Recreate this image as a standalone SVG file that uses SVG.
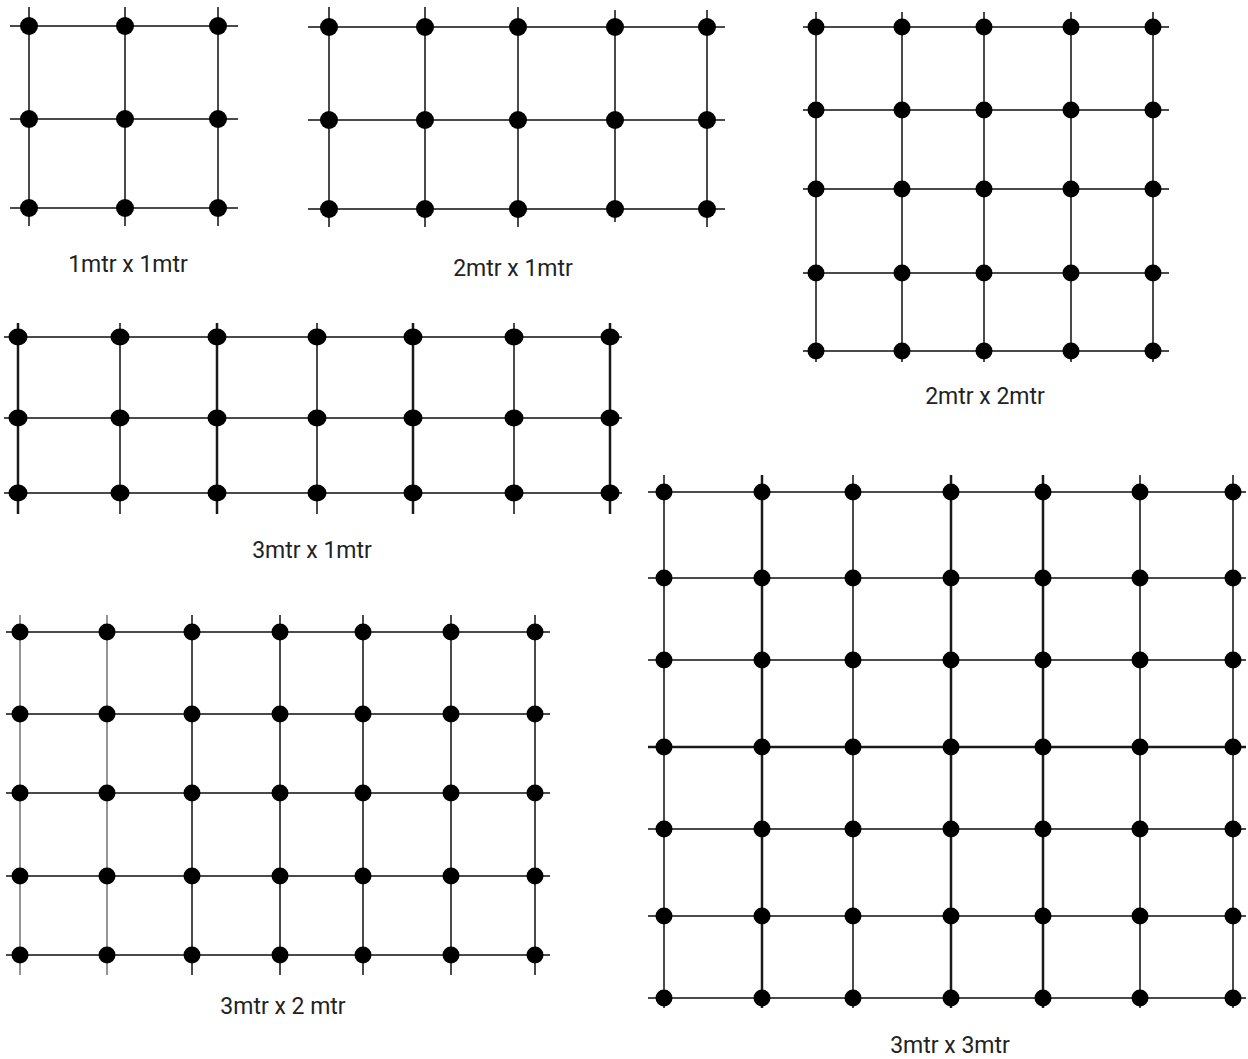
<svg xmlns="http://www.w3.org/2000/svg" width="1248" height="1059" viewBox="0 0 1248 1059">
<style>
.bg{fill:#ffffff}
.ln{stroke:#4a4a4a;stroke-width:2;fill:none}
.lnd{stroke:#1a1a1a;stroke-width:2.5;fill:none}
.lnl{stroke:#7a7a7a;stroke-width:1.6;fill:none}
.post{fill:#000000}
.lbl{font-family:Roboto,"Liberation Sans",sans-serif;font-size:23px;fill:#222222;text-anchor:middle}
</style>
<rect class="bg" x="0" y="0" width="1248" height="1059"/>

<g id="grid-1x1">
<g class="ln">
<path d="M10 26H238M10 119H238M10 208H238"/>
<path d="M29 7V226M125 7V226M218 7V226"/>
</g>
<g class="post">
<circle cx="29" cy="26" r="9"/><circle cx="125" cy="26" r="9"/><circle cx="218" cy="26" r="9"/>
<circle cx="29" cy="119" r="9"/><circle cx="125" cy="119" r="9"/><circle cx="218" cy="119" r="9"/>
<circle cx="29" cy="208" r="9"/><circle cx="125" cy="208" r="9"/><circle cx="218" cy="208" r="9"/>
</g>
<text class="lbl" x="128" y="272">1mtr x 1mtr</text>
</g>

<g id="grid-2x1">
<g class="ln">
<path d="M308 27H725M308 120H725M308 209H725"/>
<path d="M329 7V227M425 7V227M518 7V227M615 10V222M707 10V227"/>
</g>
<g class="post">
<circle cx="329" cy="27" r="9"/><circle cx="425" cy="27" r="9"/><circle cx="518" cy="27" r="9"/><circle cx="615" cy="27" r="9"/><circle cx="707" cy="27" r="9"/>
<circle cx="329" cy="120" r="9"/><circle cx="425" cy="120" r="9"/><circle cx="518" cy="120" r="9"/><circle cx="615" cy="120" r="9"/><circle cx="707" cy="120" r="9"/>
<circle cx="329" cy="209" r="9"/><circle cx="425" cy="209" r="9"/><circle cx="518" cy="209" r="9"/><circle cx="615" cy="209" r="9"/><circle cx="707" cy="209" r="9"/>
</g>
<text class="lbl" x="513" y="276">2mtr x 1mtr</text>
</g>

<g id="grid-2x2">
<g class="ln">
<path d="M803 27H1169M803 110H1169M803 189H1169M803 273H1169M803 351H1169"/>
<path d="M816 12V362M902 12V362M984 12V362M1071 12V362M1153 12V362"/>
</g>
<g class="post">
<circle cx="816" cy="27" r="8.5"/><circle cx="902" cy="27" r="8.5"/><circle cx="984" cy="27" r="8.5"/><circle cx="1071" cy="27" r="8.5"/><circle cx="1153" cy="27" r="8.5"/>
<circle cx="816" cy="110" r="8.5"/><circle cx="902" cy="110" r="8.5"/><circle cx="984" cy="110" r="8.5"/><circle cx="1071" cy="110" r="8.5"/><circle cx="1153" cy="110" r="8.5"/>
<circle cx="816" cy="189" r="8.5"/><circle cx="902" cy="189" r="8.5"/><circle cx="984" cy="189" r="8.5"/><circle cx="1071" cy="189" r="8.5"/><circle cx="1153" cy="189" r="8.5"/>
<circle cx="816" cy="273" r="8.5"/><circle cx="902" cy="273" r="8.5"/><circle cx="984" cy="273" r="8.5"/><circle cx="1071" cy="273" r="8.5"/><circle cx="1153" cy="273" r="8.5"/>
<circle cx="816" cy="351" r="8.5"/><circle cx="902" cy="351" r="8.5"/><circle cx="984" cy="351" r="8.5"/><circle cx="1071" cy="351" r="8.5"/><circle cx="1153" cy="351" r="8.5"/>
</g>
<text class="lbl" x="985" y="404">2mtr x 2mtr</text>
</g>

<g id="grid-3x1">
<g class="ln">
<path d="M4 337H622M4 418H622M4 493H622"/>
<path d="M120 323V514M317 323V514M514 323V514"/>
</g>
<g class="lnd">
<path d="M18 323V514M217 323V514M413 323V514M610 323V514"/>
</g>
<g class="post">
<ellipse cx="18" cy="337" rx="9.5" ry="8.5"/><ellipse cx="120" cy="337" rx="9.5" ry="8.5"/><ellipse cx="217" cy="337" rx="9.5" ry="8.5"/><ellipse cx="317" cy="337" rx="9.5" ry="8.5"/><ellipse cx="413" cy="337" rx="9.5" ry="8.5"/><ellipse cx="514" cy="337" rx="9.5" ry="8.5"/><ellipse cx="610" cy="337" rx="9.5" ry="8.5"/>
<ellipse cx="18" cy="418" rx="9.5" ry="8.5"/><ellipse cx="120" cy="418" rx="9.5" ry="8.5"/><ellipse cx="217" cy="418" rx="9.5" ry="8.5"/><ellipse cx="317" cy="418" rx="9.5" ry="8.5"/><ellipse cx="413" cy="418" rx="9.5" ry="8.5"/><ellipse cx="514" cy="418" rx="9.5" ry="8.5"/><ellipse cx="610" cy="418" rx="9.5" ry="8.5"/>
<ellipse cx="18" cy="493" rx="9.5" ry="8.5"/><ellipse cx="120" cy="493" rx="9.5" ry="8.5"/><ellipse cx="217" cy="493" rx="9.5" ry="8.5"/><ellipse cx="317" cy="493" rx="9.5" ry="8.5"/><ellipse cx="413" cy="493" rx="9.5" ry="8.5"/><ellipse cx="514" cy="493" rx="9.5" ry="8.5"/><ellipse cx="610" cy="493" rx="9.5" ry="8.5"/>
</g>
<text class="lbl" x="312" y="558">3mtr x 1mtr</text>
</g>

<g id="grid-3x2">
<g class="ln">
<path d="M6 632H550M6 714H550M6 793H550M6 876H550M6 955H550"/>
<path d="M192 615V975M280 615V975M363 615V975M451 615V975M535 615V975"/>
</g>
<g class="lnl">
<path d="M20 615V975M107 615V975"/>
</g>
<g class="post">
<circle cx="20" cy="632" r="8.5"/><circle cx="107" cy="632" r="8.5"/><circle cx="192" cy="632" r="8.5"/><circle cx="280" cy="632" r="8.5"/><circle cx="363" cy="632" r="8.5"/><circle cx="451" cy="632" r="8.5"/><circle cx="535" cy="632" r="8.5"/>
<circle cx="20" cy="714" r="8.5"/><circle cx="107" cy="714" r="8.5"/><circle cx="192" cy="714" r="8.5"/><circle cx="280" cy="714" r="8.5"/><circle cx="363" cy="714" r="8.5"/><circle cx="451" cy="714" r="8.5"/><circle cx="535" cy="714" r="8.5"/>
<circle cx="20" cy="793" r="8.5"/><circle cx="107" cy="793" r="8.5"/><circle cx="192" cy="793" r="8.5"/><circle cx="280" cy="793" r="8.5"/><circle cx="363" cy="793" r="8.5"/><circle cx="451" cy="793" r="8.5"/><circle cx="535" cy="793" r="8.5"/>
<circle cx="20" cy="876" r="8.5"/><circle cx="107" cy="876" r="8.5"/><circle cx="192" cy="876" r="8.5"/><circle cx="280" cy="876" r="8.5"/><circle cx="363" cy="876" r="8.5"/><circle cx="451" cy="876" r="8.5"/><circle cx="535" cy="876" r="8.5"/>
<circle cx="20" cy="955" r="8.5"/><circle cx="107" cy="955" r="8.5"/><circle cx="192" cy="955" r="8.5"/><circle cx="280" cy="955" r="8.5"/><circle cx="363" cy="955" r="8.5"/><circle cx="451" cy="955" r="8.5"/><circle cx="535" cy="955" r="8.5"/>
</g>
<text class="lbl" x="283" y="1014">3mtr x 2 mtr</text>
</g>

<g id="grid-3x3">
<g class="ln">
<path d="M648 492H1246M648 578H1246M648 660H1246M648 829H1246M648 916H1246M648 998H1246"/>
<path d="M664 475V1008M853 475V1008M1140 475V1008M1233 475V1008"/>
</g>
<g class="lnd">
<path d="M648 747H1246"/>
<path d="M762 475V1008M951 475V1008M1043 475V1008"/>
</g>
<g class="post">
<circle cx="664" cy="492" r="8.5"/><circle cx="762" cy="492" r="8.5"/><circle cx="853" cy="492" r="8.5"/><circle cx="951" cy="492" r="8.5"/><circle cx="1043" cy="492" r="8.5"/><circle cx="1140" cy="492" r="8.5"/><circle cx="1233" cy="492" r="8.5"/>
<circle cx="664" cy="578" r="8.5"/><circle cx="762" cy="578" r="8.5"/><circle cx="853" cy="578" r="8.5"/><circle cx="951" cy="578" r="8.5"/><circle cx="1043" cy="578" r="8.5"/><circle cx="1140" cy="578" r="8.5"/><circle cx="1233" cy="578" r="8.5"/>
<circle cx="664" cy="660" r="8.5"/><circle cx="762" cy="660" r="8.5"/><circle cx="853" cy="660" r="8.5"/><circle cx="951" cy="660" r="8.5"/><circle cx="1043" cy="660" r="8.5"/><circle cx="1140" cy="660" r="8.5"/><circle cx="1233" cy="660" r="8.5"/>
<circle cx="664" cy="747" r="8.5"/><circle cx="762" cy="747" r="8.5"/><circle cx="853" cy="747" r="8.5"/><circle cx="951" cy="747" r="8.5"/><circle cx="1043" cy="747" r="8.5"/><circle cx="1140" cy="747" r="8.5"/><circle cx="1233" cy="747" r="8.5"/>
<circle cx="664" cy="829" r="8.5"/><circle cx="762" cy="829" r="8.5"/><circle cx="853" cy="829" r="8.5"/><circle cx="951" cy="829" r="8.5"/><circle cx="1043" cy="829" r="8.5"/><circle cx="1140" cy="829" r="8.5"/><circle cx="1233" cy="829" r="8.5"/>
<circle cx="664" cy="916" r="8.5"/><circle cx="762" cy="916" r="8.5"/><circle cx="853" cy="916" r="8.5"/><circle cx="951" cy="916" r="8.5"/><circle cx="1043" cy="916" r="8.5"/><circle cx="1140" cy="916" r="8.5"/><circle cx="1233" cy="916" r="8.5"/>
<circle cx="664" cy="998" r="8.5"/><circle cx="762" cy="998" r="8.5"/><circle cx="853" cy="998" r="8.5"/><circle cx="951" cy="998" r="8.5"/><circle cx="1043" cy="998" r="8.5"/><circle cx="1140" cy="998" r="8.5"/><circle cx="1233" cy="998" r="8.5"/>
</g>
<text class="lbl" x="950" y="1053">3mtr x 3mtr</text>
</g>
</svg>
